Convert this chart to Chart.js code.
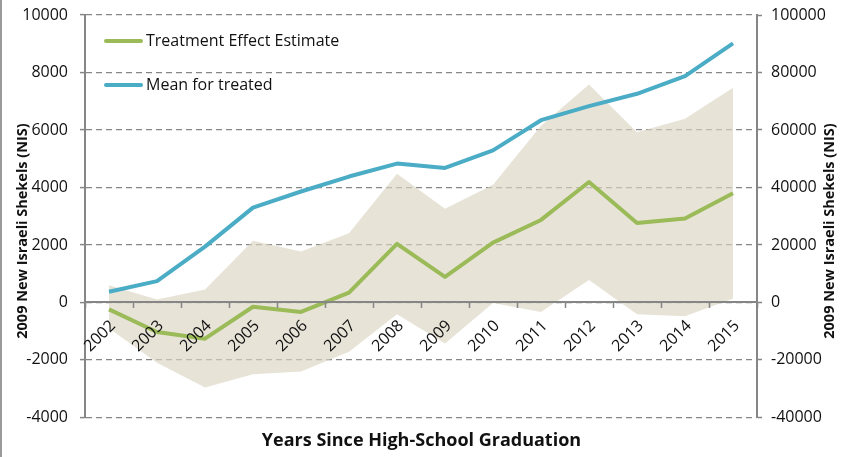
<!DOCTYPE html>
<html lang="en">
<head>
    <meta charset="UTF-8">
    <title>Treatment Effect Estimate and Mean for Treated</title>
    <script src="https://cdn.jsdelivr.net/npm/chart.js"></script>
    <style>
        html, body {
            margin: 0;
            padding: 0;
            background-color: #ffffff;
        }
        .chart-box {
            position: relative;
            width: 843px;
            height: 457px;
        }
    </style>
</head>
<body>
    <div class="chart-box">
        <canvas id="effectChart" width="843" height="457"></canvas>
    </div>

    <script>
        const years = ['2002', '2003', '2004', '2005', '2006', '2007', '2008',
                       '2009', '2010', '2011', '2012', '2013', '2014', '2015'];
        const treatmentEffect = [-240, -1030, -1260, -150, -330, 340, 2040, 890, 2080, 2870, 4190, 2760, 2920, 3800];
        const meanTreated = [3700, 7400, 19400, 33000, 38600, 43800, 48300, 46800, 52900, 63400, 68300, 72600, 78700, 90100];
        const ciLower = [-900, -2100, -2960, -2500, -2400, -1720, -410, -1430, -20, -330, 780, -410, -480, 140];
        const ciUpper = [600, 100, 450, 2150, 1770, 2410, 4480, 3260, 4090, 6150, 7580, 5920, 6390, 7470];
        const leftTicks = [-4000, -2000, 0, 2000, 4000, 6000, 8000, 10000];
        const rightTicks = [-40000, -20000, 0, 20000, 40000, 60000, 80000, 100000];

        const axisTitle = '2009 New Israeli Shekels (NIS)';
        const fontFamily = "'Open Sans', sans-serif";
        const textColor = '#111111';
        const axisGray = '#868686';
        const green = '#9BBB59';
        const blue = '#4BACC6';

        // legend inside the plot, axis titles, left frame edge
        const decorations = {
            id: 'decorations',
            beforeDraw(chart) {
                const ctx = chart.ctx;
                ctx.save();
                ctx.fillStyle = '#9a9a9a';
                ctx.fillRect(0, 0, 2, chart.height);
                ctx.restore();
            },
            afterDraw(chart) {
                const {ctx, chartArea} = chart;
                ctx.save();
                ctx.textBaseline = 'middle';
                ctx.font = '16px ' + fontFamily;
                const items = chart.data.datasets.filter(d => d.inLegend);
                items.forEach((ds, i) => {
                    const y = chartArea.top + 26 + i * 44;
                    ctx.beginPath();
                    ctx.lineWidth = 4;
                    ctx.lineCap = 'round';
                    ctx.strokeStyle = ds.borderColor;
                    ctx.moveTo(chartArea.left + 21, y);
                    ctx.lineTo(chartArea.left + 56, y);
                    ctx.stroke();
                    ctx.fillStyle = textColor;
                    ctx.textAlign = 'left';
                    ctx.fillText(ds.label, chartArea.left + 61, y);
                });

                ctx.font = 'bold 14.5px ' + fontFamily;
                ctx.textAlign = 'center';
                ctx.fillStyle = textColor;
                const midY = 231;
                [23, 830].forEach(x => {
                    ctx.save();
                    ctx.translate(x, midY);
                    ctx.rotate(-Math.PI / 2);
                    ctx.fillText(axisTitle, 0, 0);
                    ctx.restore();
                });
                ctx.restore();
            }
        };

        const plainTick = v => String(v);
        const noVerticalPadding = s => { s.paddingTop = 0; s.paddingBottom = 0; };

        const ctx = document.getElementById('effectChart').getContext('2d');
        new Chart(ctx, {
            type: 'line',
            data: {
                labels: years,
                datasets: [
                    {
                        label: 'CI lower',
                        data: ciLower,
                        yAxisID: 'y',
                        borderWidth: 0,
                        pointRadius: 0,
                        fill: false,
                        order: 4
                    },
                    {
                        label: 'CI upper',
                        data: ciUpper,
                        yAxisID: 'y',
                        borderWidth: 0,
                        pointRadius: 0,
                        backgroundColor: 'rgba(218, 212, 194, 0.66)',
                        fill: '-1',
                        order: 3
                    },
                    {
                        label: 'Treatment Effect Estimate',
                        data: treatmentEffect,
                        yAxisID: 'y',
                        borderColor: green,
                        borderWidth: 4,
                        pointRadius: 0,
                        tension: 0,
                        borderJoinStyle: 'round',
                        fill: false,
                        inLegend: true,
                        order: 2
                    },
                    {
                        label: 'Mean for treated',
                        data: meanTreated,
                        yAxisID: 'y1',
                        borderColor: blue,
                        borderWidth: 4,
                        pointRadius: 0,
                        tension: 0,
                        borderJoinStyle: 'round',
                        fill: false,
                        inLegend: true,
                        order: 1
                    }
                ]
            },
            options: {
                responsive: false,
                animation: false,
                devicePixelRatio: 1,
                layout: {
                    padding: { top: 15, left: 0, right: 0, bottom: 0 }
                },
                scales: {
                    x: {
                        position: { y: 0 },
                        offset: true,
                        afterFit: noVerticalPadding,
                        grid: {
                            drawOnChartArea: false,
                            offset: true,
                            tickLength: 5,
                            tickColor: axisGray,
                            tickWidth: 1.5,
                            z: 1
                        },
                        border: { color: axisGray, width: 2, z: 1 },
                        ticks: {
                            autoSkip: false,
                            minRotation: 45,
                            maxRotation: 45,
                            padding: 9,
                            labelOffset: 4,
                            color: textColor,
                            z: 2,
                            font: { size: 16, family: fontFamily }
                        }
                    },
                    y: {
                        position: 'left',
                        min: leftTicks[0],
                        max: leftTicks[leftTicks.length - 1],
                        afterBuildTicks: s => { s.ticks = leftTicks.map(v => ({ value: v })); },
                        afterFit: s => { s.width = 85; noVerticalPadding(s); },
                        grid: {
                            color: axisGray,
                            lineWidth: 1.2,
                            tickLength: 5,
                            tickColor: axisGray,
                            tickWidth: 1.5
                        },
                        border: { color: axisGray, width: 2, dash: [6, 4] },
                        ticks: {
                            padding: 12,
                            color: textColor,
                            callback: plainTick,
                            font: { size: 16, family: fontFamily }
                        }
                    },
                    y1: {
                        position: 'right',
                        min: rightTicks[0],
                        max: rightTicks[rightTicks.length - 1],
                        afterBuildTicks: s => { s.ticks = rightTicks.map(v => ({ value: v })); },
                        afterFit: s => { s.width = 86; noVerticalPadding(s); },
                        grid: {
                            drawOnChartArea: false,
                            tickLength: 5,
                            tickColor: axisGray,
                            tickWidth: 1.5
                        },
                        border: { color: axisGray, width: 2 },
                        ticks: {
                            padding: 9,
                            color: textColor,
                            callback: plainTick,
                            font: { size: 16, family: fontFamily }
                        }
                    }
                },
                plugins: {
                    legend: { display: false },
                    tooltip: { enabled: false },
                    title: {
                        display: true,
                        position: 'bottom',
                        text: 'Years Since High-School Graduation',
                        color: textColor,
                        font: { size: 18, weight: 'bold', family: fontFamily },
                        padding: { top: 13, bottom: 5 }
                    }
                }
            },
            plugins: [decorations]
        });
    </script>
</body>
</html>
